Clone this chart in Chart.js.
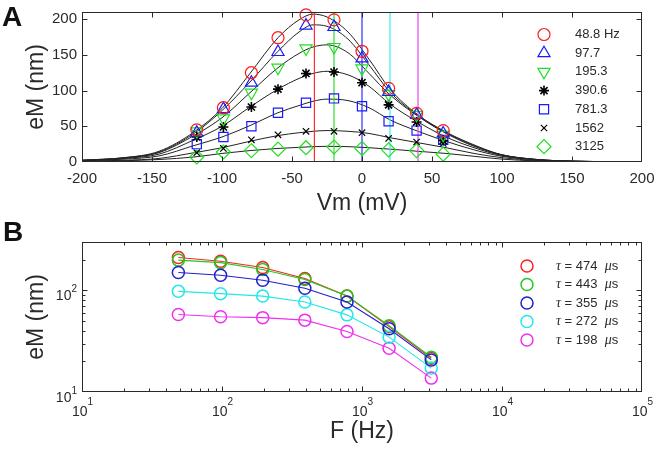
<!DOCTYPE html>
<html><head><meta charset="utf-8">
<script src="https://cdn.jsdelivr.net/npm/chart.js@4.4.1/dist/chart.umd.min.js"></script>
<style>
html,body{margin:0;padding:0;background:#fff}
body{width:656px;height:453px;position:relative;overflow:hidden;font-family:'Liberation Sans',Arial,Helvetica,sans-serif}
canvas{position:absolute;left:0}
#ca{top:0}
#cb{top:215px}
.tag{position:absolute;font-weight:bold;font-size:28px;line-height:28px;color:#111}
</style></head><body>
<canvas id="ca" width="656" height="215" style="width:656px;height:215px"></canvas>
<canvas id="cb" width="656" height="238" style="width:656px;height:238px"></canvas>
<div class="tag" style="left:2px;top:3px">A</div>
<div class="tag" style="left:3px;top:218px">B</div>
<script>
// ---------------- Panel A data ----------------
const vmPts = [-118, -99, -79, -60, -40, -20, 0, 19, 39, 58];
const freqLabelsA = ['48.8 Hz', '97.7', '195.3', '390.6', '781.3', '1562', '3125'];
const em48   = [45, 76, 125, 174, 206, 199, 155, 103, 68, 44];
const em97   = [41, 74, 111, 154, 191, 189, 145, 98, 66, 40];
const em195  = [43, 61, 97, 132, 159, 161, 131, 95, 66, 38];
const em390  = [35, 49, 77, 102, 124, 126, 111, 80, 56, 30];
const em781  = [25, 35, 50, 69, 83, 89, 78, 57, 44, 31];
const em1562 = [13, 19, 31, 38, 43, 43, 41, 33, 28, 26];
const em3125 = [7, 14, 16, 18, 20, 21, 19, 17, 16, 11];

// fitted curves
const vmGrid  = [-200, -170, -145, -120, -100, -80, -60, -45, -35, -25, -10, 5, 20, 40, 60, 80, 100, 125, 150, 200];
const fit48   = [2.5, 6, 15, 42, 75, 124, 174, 199, 207, 203, 182, 144, 102, 66, 42, 24, 10, 3.5, 1.2, 0];
const fit97   = [2.5, 6, 14, 40, 72, 112, 155, 182, 192, 190, 172, 136, 98, 65, 41, 23, 10, 3.5, 1.2, 0];
const fit195  = [2.3, 5.5, 13, 37, 62, 97, 132, 152, 161, 164, 153, 124, 94, 64, 40, 22, 10, 3.5, 1.2, 0];
const fit390  = [2, 5, 11, 31, 50, 77, 102, 117, 124, 127, 122, 106, 81, 56, 35, 20, 9, 3, 1, 0];
const fit781  = [1.5, 4, 8.5, 23, 35, 51, 69, 79, 85, 88, 86, 76, 59, 43, 29, 17, 8, 3, 1, 0];
const fit1562 = [1, 2.5, 5, 13, 20, 29, 37, 41, 43, 44, 43, 40, 34, 27, 20, 12, 6, 2, 0.7, 0];
const fit3125 = [0.8, 1.8, 3.5, 7, 12, 16, 19, 20.5, 21.5, 22, 21.5, 20, 18, 15, 12, 8, 4, 1.5, 0.5, 0];

const vLineVm = [-34, -20, 0, 20, 40];
const xTicksA = [-200, -150, -100, -50, 0, 50, 100, 150, 200];
const yTicksA = [0, 50, 100, 150, 200];

// ---------------- Panel B data ----------------
const freqB = [48.8, 97.7, 195.3, 390.6, 781.3, 1562, 3125];
const tauLabels = ['474', '443', '355', '272', '198'];
const emT474 = [211, 194, 168, 131, 88, 44, 21.5];
const emT443 = [199, 188, 161, 128, 88, 45, 22];
const emT355 = [150, 141, 126, 105, 77, 42, 20.7];
const emT272 = [98, 93, 88, 77, 57.5, 34.7, 17.2];
const emT198 = [58, 55, 54, 51, 39.5, 27, 13.7];
const xTicksB = [10, 100, 1000, 10000, 100000];
const xExpB = ['1', '2', '3', '4', '5'];
const yTicksB = [10, 100];
const yExpB = ['1', '2'];

// ---------------- styling ----------------
const FONT = "'Liberation Sans', Arial, Helvetica, sans-serif";
const SERIF = "'Liberation Serif', 'Times New Roman', serif";
const AX = '#2a2a2a';
Chart.defaults.font.family = FONT;
Chart.defaults.color = AX;

const markerA = [
  {ps: 'circle',   r: 6,   c: '#ff1a1a', rot: 0,   bw: 1.2},
  {ps: 'triangle', r: 7,   c: '#1a1aff', rot: 0,   bw: 1.2},
  {ps: 'triangle', r: 7,   c: '#1ee01e', rot: 180, bw: 1.2},
  {ps: 'star',     r: 5,   c: '#000000', rot: 0,   bw: 1.6},
  {ps: 'rect',     r: 6.5, c: '#1a1aff', rot: 0,   bw: 1.2},
  {ps: 'crossRot', r: 4.5, c: '#000000', rot: 0,   bw: 1.2},
  {ps: 'rectRot',  r: 7,   c: '#1ee01e', rot: 0,   bw: 1.2}
];
const vLineColors = ['#ff3030', '#30dd30', '#3030ff', '#30eeee', '#ee44ee'];
const tauColors = ['#ff2020', '#22c822', '#2020d0', '#22e8e8', '#f030f0'];

const emA = [em48, em97, em195, em390, em781, em1562, em3125];
const fitA = [fit48, fit97, fit195, fit390, fit781, fit1562, fit3125];
const emB = [emT474, emT443, emT355, emT272, emT198];

function logMinor(min, max) {
  const out = [];
  for (let e = Math.floor(Math.log10(min)); e <= Math.ceil(Math.log10(max)); e++) {
    for (let k = 2; k <= 9; k++) { const v = k * Math.pow(10, e); if (v > min && v < max) out.push(v); }
  }
  return out;
}

function framePlugin(cfg) {
  return {
    id: 'frame' + cfg.name,
    afterDatasetsDraw(chart) {
      const {ctx, chartArea: a, scales: {x, y}} = chart;
      ctx.save();
      ctx.strokeStyle = AX; ctx.lineWidth = 1;
      const L = Math.round(a.left) + 0.5, R = Math.round(a.right) - 0.5;
      const T = Math.round(a.top) + 0.5, B = Math.round(a.bottom) - 0.5;
      ctx.beginPath();
      const xt = (v, len) => {
        const p = Math.round(x.getPixelForValue(v)) + 0.5;
        if (p <= L + 1 || p >= R - 1) return;
        ctx.moveTo(p, B); ctx.lineTo(p, B - len); ctx.moveTo(p, T); ctx.lineTo(p, T + len);
      };
      const yt = (v, len) => {
        const p = Math.round(y.getPixelForValue(v)) + 0.5;
        if (p <= T + 1 || p >= B - 1) return;
        ctx.moveTo(L, p); ctx.lineTo(L + len, p); ctx.moveTo(R, p); ctx.lineTo(R - len, p);
      };
      cfg.xMajor.forEach(v => xt(v, 5));
      cfg.yMajor.forEach(v => yt(v, 5));
      (cfg.xMinor || []).forEach(v => xt(v, 3));
      (cfg.yMinor || []).forEach(v => yt(v, 3));
      ctx.stroke();
      ctx.strokeRect(L, T, R - L, B - T);
      // y-axis title, rotated
      ctx.fillStyle = AX; ctx.font = '23px ' + FONT;
      ctx.textAlign = 'center'; ctx.textBaseline = 'alphabetic';
      ctx.translate(43, (a.top + a.bottom) / 2);
      ctx.rotate(-Math.PI / 2);
      ctx.fillText('eM (nm)', 0, 0);
      ctx.restore();
    }
  };
}

function drawMarker(ctx, m, x, y) {
  ctx.save();
  ctx.strokeStyle = m.c; ctx.fillStyle = 'rgba(0,0,0,0)'; ctx.lineWidth = m.bw;
  Chart.helpers.drawPoint(ctx, {pointStyle: m.ps, radius: m.r, rotation: m.rot, borderWidth: m.bw}, x, y);
  ctx.restore();
}

// ---------------- Chart A ----------------
const dsA = [];
emA.forEach((arr, i) => {
  const m = markerA[i];
  dsA.push({
    label: freqLabelsA[i], order: 0, showLine: false, clip: false,
    data: vmPts.map((v, j) => ({x: v, y: arr[j]})),
    pointStyle: m.ps, pointRadius: m.r, pointRotation: m.rot,
    pointBorderColor: m.c, pointBackgroundColor: 'rgba(0,0,0,0)', pointBorderWidth: m.bw,
    borderColor: m.c
  });
});
vLineVm.forEach((v, i) => {
  dsA.push({order: 1, data: [{x: v, y: 0}, {x: v, y: 210}], borderColor: vLineColors[i], borderWidth: 1.2, pointRadius: 0});
});
fitA.forEach(arr => {
  dsA.push({order: 2, data: vmGrid.map((v, j) => ({x: v, y: arr[j]})), borderColor: '#222', borderWidth: 1,
    pointRadius: 0, cubicInterpolationMode: 'monotone'});
});

const legendA = {
  id: 'legendA',
  afterDraw(chart) {
    const ctx = chart.ctx;
    ctx.save();
    freqLabelsA.forEach((lab, i) => {
      const y = 34.5 + i * 18.7;
      drawMarker(ctx, markerA[i], 544, y);
      ctx.fillStyle = AX; ctx.font = '13px ' + FONT; ctx.textBaseline = 'middle'; ctx.textAlign = 'left';
      ctx.fillText(lab, 575, y);
    });
    ctx.restore();
  }
};

new Chart(document.getElementById('ca'), {
  type: 'line',
  data: {datasets: dsA},
  options: {
    responsive: false, animation: false, events: [],
    layout: {padding: {left: 0, right: 14, top: 12, bottom: 0}},
    plugins: {legend: {display: false}, tooltip: {enabled: false}},
    scales: {
      x: {
        type: 'linear', min: -200, max: 200,
        afterBuildTicks: s => { s.ticks = xTicksA.map(v => ({value: v})); },
        afterFit: s => { s.height = 53; s.paddingLeft = 0; s.paddingRight = 0; },
        grid: {display: false, drawTicks: false}, border: {display: false},
        ticks: {padding: 8, maxRotation: 0, autoSkip: false, font: {size: 15}, color: AX},
        title: {display: true, text: 'Vm (mV)', font: {size: 23, lineHeight: 1}, color: AX, padding: {top: 0, bottom: 0}}
      },
      y: {
        type: 'linear', min: 0, max: 210,
        afterBuildTicks: s => { s.ticks = yTicksA.map(v => ({value: v})); },
        afterFit: s => { s.width = 82; s.paddingTop = 0; s.paddingBottom = 0; },
        grid: {display: false, drawTicks: false}, border: {display: false},
        ticks: {padding: 5, font: {size: 15}, color: AX},
        title: {display: false}
      }
    }
  },
  plugins: [framePlugin({name: 'A', xMajor: xTicksA, yMajor: yTicksA}), legendA]
});

// ---------------- Chart B ----------------
const dsB = emB.map((arr, i) => ({
  label: 'τ = ' + tauLabels[i] + ' μs', order: [5, 4, 1, 2, 3][i], clip: false,
  data: freqB.map((f, j) => ({x: f, y: arr[j]})),
  borderColor: tauColors[i], borderWidth: 1.1, tension: 0,
  pointStyle: 'circle', pointRadius: 6, pointBorderWidth: 1.5,
  pointBorderColor: tauColors[i], pointBackgroundColor: 'rgba(0,0,0,0)'
}));

const labelsB = {
  id: 'labelsB',
  afterDraw(chart) {
    const {ctx, scales: {x, y}, chartArea: a} = chart;
    ctx.save();
    ctx.fillStyle = AX; ctx.textBaseline = 'alphabetic';
    // x tick labels 10^n
    xTicksB.forEach((v, i) => {
      const p = x.getPixelForValue(v);
      ctx.font = '14px ' + FONT; const wb = ctx.measureText('10').width;
      ctx.font = '10px ' + FONT; const we = ctx.measureText(xExpB[i]).width;
      const x0 = p - (wb + we) / 2 + 0.5;
      ctx.textAlign = 'left';
      ctx.font = '14px ' + FONT; ctx.fillText('10', x0, a.bottom + 24);
      ctx.font = '10px ' + FONT; ctx.fillText(xExpB[i], x0 + wb, a.bottom + 13);
    });
    // y tick labels 10^n
    yTicksB.forEach((v, i) => {
      const p = y.getPixelForValue(v);
      const xr = a.left - 5;
      ctx.font = '10px ' + FONT; const we = ctx.measureText(yExpB[i]).width;
      ctx.textAlign = 'right';
      ctx.fillText(yExpB[i], xr, p + 2);
      ctx.font = '14px ' + FONT; ctx.fillText('10', xr - we, p + 10);
    });
    // legend
    tauLabels.forEach((t, i) => {
      const yy = 51 + i * 18.5;
      drawMarker(ctx, {ps: 'circle', r: 6, c: tauColors[i], rot: 0, bw: 1.5}, 527, yy);
      ctx.fillStyle = AX; ctx.textBaseline = 'middle'; ctx.textAlign = 'left';
      let xx = 556;
      ctx.font = 'italic 14px ' + SERIF; ctx.fillText('τ', xx, yy); xx += ctx.measureText('τ').width;
      const mid = ' = ' + t + '  ';
      ctx.font = '13px ' + FONT; ctx.fillText(mid, xx, yy); xx += ctx.measureText(mid).width;
      ctx.font = 'italic 14px ' + SERIF; ctx.fillText('μ', xx, yy); xx += ctx.measureText('μ').width;
      ctx.font = '13px ' + FONT; ctx.fillText('s', xx, yy);
    });
    ctx.restore();
  }
};

new Chart(document.getElementById('cb'), {
  type: 'line',
  data: {datasets: dsB},
  options: {
    responsive: false, animation: false, events: [],
    layout: {padding: {left: 0, right: 14, top: 27, bottom: 0}},
    plugins: {legend: {display: false}, tooltip: {enabled: false}},
    scales: {
      x: {
        type: 'logarithmic', min: 10, max: 100000,
        afterFit: s => { s.height = 61; s.paddingLeft = 0; s.paddingRight = 0; },
        grid: {display: false, drawTicks: false}, border: {display: false},
        ticks: {display: false},
        title: {display: true, text: 'F (Hz)', font: {size: 23, lineHeight: 1}, color: AX, padding: {top: 0, bottom: 9.5}}
      },
      y: {
        type: 'logarithmic', min: 10, max: 300,
        afterFit: s => { s.width = 82; s.paddingTop = 0; s.paddingBottom = 0; },
        grid: {display: false, drawTicks: false}, border: {display: false},
        ticks: {display: false},
        title: {display: false}
      }
    }
  },
  plugins: [framePlugin({name: 'B', xMajor: xTicksB, yMajor: yTicksB, xMinor: logMinor(10, 100000), yMinor: logMinor(10, 300)}), labelsB]
});
</script>
</body></html>
